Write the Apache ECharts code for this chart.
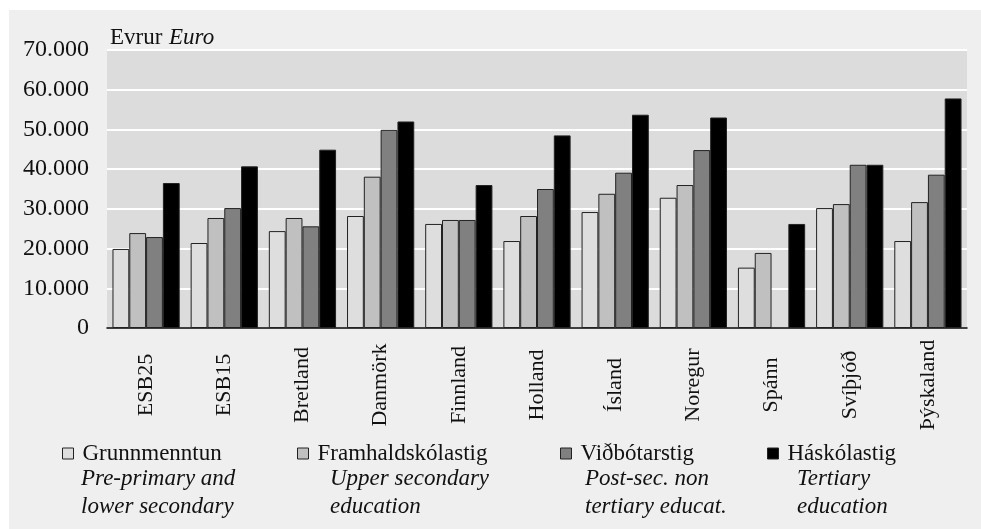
<!DOCTYPE html>
<html>
<head>
<meta charset="utf-8">
<script src="https://cdn.jsdelivr.net/npm/echarts@6/dist/echarts.min.js"></script>
<style>html,body{margin:0;padding:0;background:#fff;}
#bg{position:absolute;left:9px;top:10px;width:972px;height:519px;background:#efefef;}
#c{position:absolute;left:0;top:0;width:981px;height:529px;}</style>
</head>
<body>
<div id="bg"></div>
<div id="c"></div>
<script>
var categories = ['ESB25','ESB15','Bretland','Danmörk','Finnland','Holland','Ísland','Noregur','Spánn','Svíþjóð','Þýskaland'];
var grunnmenntun = [19900, 21400, 24400, 28200, 26200, 21900, 29200, 32800, 15200, 30200, 21900];
var framhald = [23900, 27700, 27700, 38100, 27200, 28200, 33800, 36000, 18900, 31200, 31700];
var vidbotar = [22900, 30200, 25600, 49900, 27200, 35000, 39100, 44800, null, 41100, 38600];
var haskola = [36500, 40700, 44900, 52000, 36000, 48500, 53700, 53000, 26200, 41100, 57800];
var seriesNames = ['Grunnmenntun','Framhaldskólastig','Viðbótarstig','Háskólastig'];
var seriesSub = [['Pre-primary and','lower secondary'],['Upper secondary','education'],['Post-sec. non','tertiary educat.'],['Tertiary','education']];
var yTicks = [0,10000,20000,30000,40000,50000,60000,70000];

var colors = ['#dedede','#c0c0c0','#808080','#000000'];
var font = 'Liberation Serif';
var chart = echarts.init(document.getElementById('c'));
var dataArr = [grunnmenntun, framhald, vidbotar, haskola];
var legendX = [62, 297, 560, 767];
var subX = [81, 330, 585, 797];

var series = dataArr.map(function(d,i){
  return {
    name: seriesNames[i], type:'bar', data:d,
    barGap:'0%', barCategoryGap:'14%',
    itemStyle:{color:colors[i], borderColor:'#222', borderWidth:1},
    emphasis:{disabled:true}
  };
});

var legends = seriesNames.map(function(n,i){
  return {
    data:[n], left:legendX[i], top:442, padding:0,
    icon:'rect', itemWidth:11, itemHeight:11, itemGap:0,
    itemStyle:{borderColor:'#222', borderWidth:1},
    textStyle:{fontFamily:font, fontSize:23, color:'#111', padding:[0,0,0,4]},
    selectedMode:false
  };
});

var graphics = [{
  type:'text', left:110, top:26,
  style:{text:'{a|Evrur}  {b|Euro}', rich:{a:{fontFamily:font,fontSize:23,fill:'#111'},b:{fontFamily:font,fontSize:23,fontStyle:'italic',fill:'#111'}}}
}];
seriesSub.forEach(function(lines,i){
  lines.forEach(function(t,j){
    graphics.push({type:'text', left:subX[i], top:467 + j*28,
      style:{text:t, fontFamily:font, fontSize:23, fontStyle:'italic', fill:'#111'}});
  });
});

chart.setOption({
  backgroundColor:'transparent',
  animation:false,
  grid:{left:107, right:14, top:50, bottom:201, show:true, backgroundColor:'#dcdcdc', borderWidth:0},
  legend: legends,
  graphic: graphics,
  xAxis:{
    type:'category', data:categories,
    axisTick:{show:false},
    axisLine:{lineStyle:{color:'#000', width:1.5}},
    axisLabel:{rotate:90, align:'center', verticalAlign:'middle', margin:57, fontFamily:font, fontSize:22, color:'#111', interval:0}
  },
  yAxis:{
    type:'value', min:0, max:70000, interval:10000,
    axisLine:{show:false}, axisTick:{show:false},
    splitLine:{lineStyle:{color:'#ffffff', width:2}},
    axisLabel:{margin:18, fontFamily:font, fontSize:24, color:'#111',
      formatter:function(v){ return v===0 ? '0' : (v/1000) + '.000'; }}
  },
  series: series
});
</script>
</body>
</html>
